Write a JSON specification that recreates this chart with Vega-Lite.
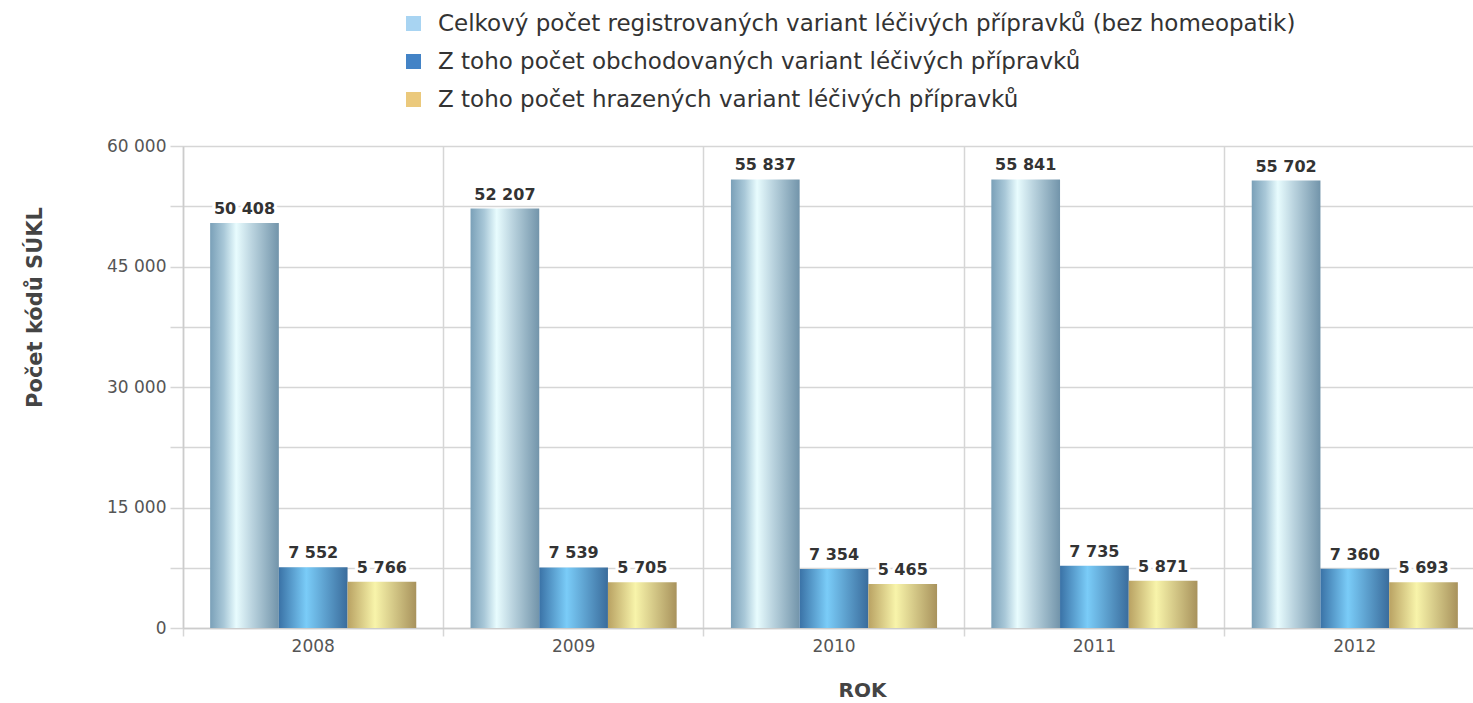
{
  "$schema": "https://vega.github.io/schema/vega-lite/v6.json",
  "width": 1302,
  "height": 482,
  "autosize": {"type": "none"},
  "padding": {"left": 183, "top": 146, "right": -12, "bottom": 75},
  "background": "white",
  "config": {
    "view": {"stroke": null},
    "font": "DejaVu Sans",
    "locale": {"number": {"decimal": ",", "thousands": " ", "grouping": [3], "currency": ["", " Kč"]}}
  },
  "data": {
    "values": [
      {"rok": "2008", "serie": "Celkový počet registrovaných variant léčivých přípravků (bez homeopatik)", "pocet": 50408},
      {"rok": "2008", "serie": "Z toho počet obchodovaných variant léčivých přípravků", "pocet": 7552},
      {"rok": "2008", "serie": "Z toho počet hrazených variant léčivých přípravků", "pocet": 5766},
      {"rok": "2009", "serie": "Celkový počet registrovaných variant léčivých přípravků (bez homeopatik)", "pocet": 52207},
      {"rok": "2009", "serie": "Z toho počet obchodovaných variant léčivých přípravků", "pocet": 7539},
      {"rok": "2009", "serie": "Z toho počet hrazených variant léčivých přípravků", "pocet": 5705},
      {"rok": "2010", "serie": "Celkový počet registrovaných variant léčivých přípravků (bez homeopatik)", "pocet": 55837},
      {"rok": "2010", "serie": "Z toho počet obchodovaných variant léčivých přípravků", "pocet": 7354},
      {"rok": "2010", "serie": "Z toho počet hrazených variant léčivých přípravků", "pocet": 5465},
      {"rok": "2011", "serie": "Celkový počet registrovaných variant léčivých přípravků (bez homeopatik)", "pocet": 55841},
      {"rok": "2011", "serie": "Z toho počet obchodovaných variant léčivých přípravků", "pocet": 7735},
      {"rok": "2011", "serie": "Z toho počet hrazených variant léčivých přípravků", "pocet": 5871},
      {"rok": "2012", "serie": "Celkový počet registrovaných variant léčivých přípravků (bez homeopatik)", "pocet": 55702},
      {"rok": "2012", "serie": "Z toho počet obchodovaných variant léčivých přípravků", "pocet": 7360},
      {"rok": "2012", "serie": "Z toho počet hrazených variant léčivých přípravků", "pocet": 5693}
    ]
  },
  "encoding": {
    "x": {
      "field": "rok", "type": "nominal",
      "scale": {"paddingInner": 0, "paddingOuter": 0},
      "axis": {
        "title": "ROK", "labelAngle": 0, "bandPosition": 0,
        "grid": true, "gridColor": "#d6d6d6", "gridWidth": 1.5,
        "domainColor": "#cccccc", "domainWidth": 1.5,
        "tickColor": "#d6d6d6", "tickSize": 8, "tickWidth": 1.5,
        "labelFontSize": 17, "labelColor": "#555555", "labelPadding": 2,
        "titleFontSize": 20, "titleFontWeight": "bold", "titleColor": "#444444",
        "titleX": 679, "titleY": 62, "titleBaseline": "middle", "titleAnchor": "start", "titleAlign": "center"
      }
    },
    "xOffset": {
      "field": "serie", "type": "nominal",
      "scale": {
        "domain": [
          "Celkový počet registrovaných variant léčivých přípravků (bez homeopatik)",
          "Z toho počet obchodovaných variant léčivých přípravků",
          "Z toho počet hrazených variant léčivých přípravků"
        ],
        "paddingInner": 0, "paddingOuter": 0.395
      }
    },
    "y": {
      "field": "pocet", "type": "quantitative",
      "scale": {"domain": [0, 60000], "nice": false},
      "axis": {
        "title": "Počet kódů SÚKL",
        "values": [0, 7500, 15000, 22500, 30000, 37500, 45000, 52500, 60000],
        "labelExpr": "datum.value % 15000 == 0 ? replace(format(datum.value, ','), ',', ' ') : ''",
        "grid": true, "gridColor": "#d6d6d6", "gridWidth": 1.5,
        "domainColor": "#cccccc", "domainWidth": 1.5,
        "tickColor": "#d6d6d6", "tickSize": 13, "tickWidth": 1.5,
        "labelFontSize": 17, "labelColor": "#555555", "labelPadding": 4,
        "titleFontSize": 21, "titleFontWeight": "bold", "titleColor": "#444444",
        "titleAngle": -90, "titleX": -148, "titleY": 161, "titleBaseline": "middle", "titleAlign": "center", "titleAnchor": "start"
      }
    }
  },
  "layer": [
    {
      "transform": [{"filter": "datum.serie == 'Celkový počet registrovaných variant léčivých přípravků (bez homeopatik)'"}],
      "mark": {"type": "bar", "fill": {"gradient": "linear", "x1": 0, "x2": 1, "y1": 0, "y2": 0,
        "stops": [
          {"offset": 0, "color": "#7aa0b8"},
          {"offset": 0.2, "color": "#a9c8d8"},
          {"offset": 0.38, "color": "#e8fcfe"},
          {"offset": 0.6, "color": "#bcd5e0"},
          {"offset": 1, "color": "#7294aa"}
        ]}}
    },
    {
      "transform": [{"filter": "datum.serie == 'Z toho počet obchodovaných variant léčivých přípravků'"}],
      "mark": {"type": "bar", "fill": {"gradient": "linear", "x1": 0, "x2": 1, "y1": 0, "y2": 0,
        "stops": [
          {"offset": 0, "color": "#3a72a6"},
          {"offset": 0.4, "color": "#7accf8"},
          {"offset": 1, "color": "#3a6c9c"}
        ]}}
    },
    {
      "transform": [{"filter": "datum.serie == 'Z toho počet hrazených variant léčivých přípravků'"}],
      "mark": {"type": "bar", "fill": {"gradient": "linear", "x1": 0, "x2": 1, "y1": 0, "y2": 0,
        "stops": [
          {"offset": 0, "color": "#b9a263"},
          {"offset": 0.4, "color": "#f8f4aa"},
          {"offset": 1, "color": "#a8925c"}
        ]}}
    },
    {
      "mark": {"type": "text", "baseline": "alphabetic", "dy": -9, "fontSize": 16, "fontWeight": "bold", "fill": "white", "stroke": "white", "strokeWidth": 6},
      "encoding": {"text": {"field": "pocet", "type": "quantitative", "format": ","}}
    },
    {
      "mark": {"type": "text", "baseline": "alphabetic", "dy": -9, "fontSize": 16, "fontWeight": "bold", "fill": "#333333"},
      "encoding": {"text": {"field": "pocet", "type": "quantitative", "format": ","}}
    },
    {
      "mark": {"type": "square", "opacity": 0},
      "encoding": {
        "color": {
          "field": "serie", "type": "nominal",
          "scale": {
            "domain": [
              "Celkový počet registrovaných variant léčivých přípravků (bez homeopatik)",
              "Z toho počet obchodovaných variant léčivých přípravků",
              "Z toho počet hrazených variant léčivých přípravků"
            ],
            "range": ["#a8d4f2", "#4383c6", "#ebc97c"]
          },
          "legend": {
            "title": null, "orient": "none", "legendX": 219, "legendY": -134,
            "symbolType": "square", "symbolSize": 225, "symbolOpacity": 1, "symbolStrokeWidth": 0,
            "labelFontSize": 23, "labelColor": "#333333", "labelLimit": 0, "labelOffset": 13,
            "rowPadding": 14
          }
        }
      }
    }
  ]
}
